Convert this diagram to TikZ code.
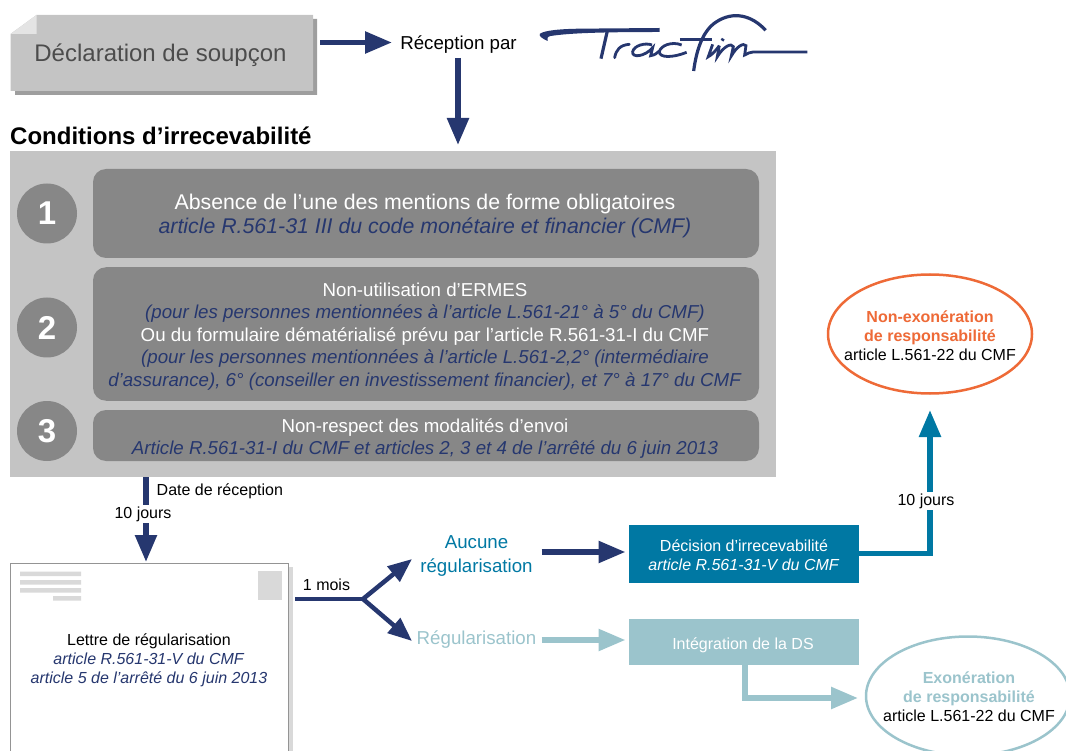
\documentclass[tikz,border=0pt]{standalone}
\usepackage{fontspec}
\setmainfont{Liberation Sans}
\usetikzlibrary{arrows.meta,shapes.geometric}
\definecolor{navy}{HTML}{26376F}
\definecolor{teal}{HTML}{0078A3}
\definecolor{pale}{HTML}{9BC4CC}
\definecolor{panel}{HTML}{C4C4C4}
\definecolor{dark}{HTML}{878787}
\definecolor{orng}{HTML}{EE6A37}
\definecolor{lite}{HTML}{D9D9D9}
\newcommand{\fs}[2]{\fontsize{#1}{#2}\selectfont}
\newcommand{\bl}[1]{\textcolor{navy}{\textit{#1}}}
\tikzset{
 arrowline/.style={line width=5.5pt,-{Triangle[length=27pt,width=21pt]}},
 navyarrow/.style={arrowline,draw=navy},
 thinhead/.style={line width=4.5pt,draw=navy,-{Triangle[length=24pt,width=19pt]}},
 rbox/.style={rounded corners=13pt,fill=dark,draw=none,minimum width=666pt,inner sep=0pt},
 boxtext/.style={inner sep=0pt,align=center,text=white},
 num/.style={circle,fill=dark,minimum size=60pt,inner sep=0pt,text=white,font=\fs{33}{36}\bfseries},
 lbl/.style={inner sep=0pt,align=center},
 gap/.style={fill=white,inner xsep=1pt,inner ysep=2pt,font=\fs{16}{18}},
 flat/.style={draw=none,minimum width=230pt,inner sep=0pt},
 oval/.style={ellipse,fill=white,minimum width=204pt,minimum height=119pt,inner sep=0pt,line width=2.5pt},
 ovaltext/.style={lbl,font=\fs{16}{19}},
}
\begin{document}
\begin{tikzpicture}[x=1pt,y=-1pt]
\clip (0,0) rectangle (1066,751);
% top box
\fill[black!38] (313,19) -- (317,19) -- (317,95) -- (15,95) -- (15,91) -- (313,91) -- cycle;
\fill[panel] (36.5,15) -- (313,15) -- (313,91) -- (10.5,91) -- (10.5,34) -- cycle;
\fill[lite!70] (10.5,34) -- (36.5,34) -- (36.5,15) -- cycle;
\node[lbl,text=black!70,font=\fs{24}{28}] (decl) at (160.5,55.5) {Déclaration de soupçon};
\node[lbl,font=\fs{18.7}{22}] (recep) at (458.5,45) {Réception par};
\coordinate (a1s) at (320,42.5); \coordinate (a1e) at (392,42.5);
\draw[navyarrow] (a1s) -- (a1e);
\coordinate (a2s) at (458,58); \coordinate (a2e) at (458,145);
\draw[navyarrow] (a2s) -- (a2e);
% logo
\begin{scope}[shift={(530pt,-5pt)},x=0.3333pt,y=-0.3333pt]
 \fill[navy] (389,69) -- (150,71) .. controls (90,72) and (45,76) .. (30,86) .. controls (25,92) and (35,100) .. (53,108) .. controls (50,100) and (52,95) .. (62,93) .. controls (120,84) and (220,81) .. (389,81) -- cycle;
 \draw[navy,line width=3.2pt] (232,78) -- (213,161);
 \draw[navy,line width=2.8pt,line cap=round] (254,158) .. controls (258,135) and (270,120) .. (298,118);
 \draw[navy,line width=2.8pt] (366,120) .. controls (345,112) and (312,122) .. (308,140) .. controls (305,160) and (345,155) .. (368,128) -- (362,152) .. controls (375,150) and (380,145) .. (388,138);
 \draw[navy,line width=2.8pt] (455,120) .. controls (425,108) and (392,122) .. (388,140) .. controls (388,160) and (430,158) .. (470,142);
 \draw[navy,line width=3pt] (450,103) -- (545,103);
 \draw[navy,line width=3.2pt] (491,198) .. controls (500,130) and (520,75) .. (560,50) .. controls (610,18) and (665,30) .. (707,76);
 \draw[navy,line width=2.8pt] (548,118) -- (535,155) .. controls (545,150) and (555,140) .. (568,122);
 \draw[navy,line width=3.2pt] (580,101) -- (576,107);
 \draw[navy,line width=2.8pt] (568,122) -- (562,155) .. controls (580,125) and (605,112) .. (610,125) -- (604,153) .. controls (620,125) and (640,112) .. (648,122) -- (644,150) .. controls (655,145) and (660,141) .. (670,141) -- (832,141);
\end{scope}
% conditions
\node[lbl,anchor=west,font=\fs{24}{28}\bfseries] (cond) at (10,136) {Conditions d’irrecevabilité};
\fill[panel] (10,151) rectangle (776,477);
\node[num] (n1) at (47,213.5) {1};
\node[num] (n2) at (47,327.5) {2};
\node[num] (n3) at (47,431) {3};
\node[rbox,minimum height=89pt] (b1) at (426,213.5) {};
\node[boxtext,font=\fs{21.3}{24.7}] (t1) at (425,216) {Absence de l’une des mentions de forme obligatoires\\\bl{article R.561-31 III du code monétaire et financier (CMF)}};
\node[rbox,minimum height=133.5pt] (b2) at (426,334) {};
\node[boxtext,font=\fs{18.7}{22.4}] (t2) at (425,336.5) {Non-utilisation d’ERMES\\\bl{(pour les personnes mentionnées à l’article L.561-21° à 5° du CMF)}\\Ou du formulaire dématérialisé prévu par l’article R.561-31-I du CMF\\\bl{(pour les personnes mentionnées à l’article L.561-2,2° (intermédiaire}\\\bl{d’assurance), 6° (conseiller en investissement financier), et 7° à 17° du CMF}};
\node[rbox,minimum height=51pt] (b3) at (426,435.5) {};
\node[boxtext,font=\fs{18.7}{22}] (t3) at (425,438.5) {Non-respect des modalités d’envoi\\\bl{Article R.561-31-I du CMF et articles 2, 3 et 4 de l’arrêté du 6 juin 2013}};
% letter
\coordinate (a3s) at (146,477); \coordinate (a3e) at (146,562);
\draw[navyarrow] (a3s) -- (a3e);
\node[lbl,anchor=west,font=\fs{16}{18}] (date) at (156.5,491) {Date de réception};
\node[gap] (dix1) at (143,514) {10 jours};
\fill[lite] (284,567) rectangle (293,760);
\node[draw=black!42,line width=0.9pt,fill=white,minimum width=277.5pt,minimum height=210pt,inner sep=0pt] (letter) at (149.5,668) {};
\fill[lite] (20,571.5) rectangle (81,576) (20,580) rectangle (81,584.5) (20,588) rectangle (81,592.5) (53,596) rectangle (81,600.5);
\fill[lite] (258,571) rectangle (282,600);
\node[lbl,font=\fs{16}{19}] (ltxt) at (149,660) {Lettre de régularisation\\\bl{article R.561-31-V du CMF}\\\bl{article 5 de l’arrêté du 6 juin 2013}};
% fork
\coordinate (f0) at (295,599); \coordinate (f1) at (363,599);
\coordinate (f2) at (412,559); \coordinate (f3) at (412,641);
\draw[navy,line width=4.5pt] (f0) -- (f1);
\draw[thinhead] (f1) -- (f2);
\draw[thinhead] (f1) -- (f3);
\node[lbl,font=\fs{16}{18}] (mois) at (326.5,584.5) {1 mois};
\node[lbl,text=teal,font=\fs{18.7}{23.7}] (auc) at (476.5,556) {Aucune\\régularisation};
\node[lbl,text=pale,font=\fs{18.7}{22}] (reg) at (476.5,640) {Régularisation};
% boxes
\node[flat,fill=teal,minimum height=58pt] (dec) at (744,554) {};
\node[boxtext,font=\fs{16}{19}] (dect) at (744,555) {Décision d’irrecevabilité\\\textit{article R.561-31-V du CMF}};
\node[flat,fill=pale,minimum height=46pt] (integ) at (744,642) {};
\node[boxtext,font=\fs{16}{18}] (integt) at (743,645) {Intégration de la DS};
\node[oval,draw=orng] (nonex) at (930,334) {};
\node[ovaltext] (nonext) at (930,336) {\textcolor{orng}{\textbf{Non-exonération}}\\\textcolor{orng}{\textbf{de responsabilité}}\\article L.561-22 du CMF};
\node[oval,draw=pale] (ex) at (968,696) {};
\node[ovaltext] (ext) at (969,697) {\textcolor{pale}{\textbf{Exonération}}\\\textcolor{pale}{\textbf{de responsabilité}}\\article L.561-22 du CMF};
\coordinate (a4s) at (541.5,552); \coordinate (a4e) at (625.5,552);
\draw[navyarrow] (a4s) -- (a4e);
\coordinate (a5s) at (541.5,640); \coordinate (a5e) at (625.5,640);
\draw[arrowline,draw=pale] (a5s) -- (a5e);
\coordinate (a6e) at (930,410);
\draw[arrowline,draw=teal] (dec.east |- 0,553.5) -| (a6e);
\node[gap] (dix2) at (926,501) {10 jours};
\coordinate (a7e) at (858,698);
\draw[arrowline,draw=pale] (integ.south -| 745,0) |- (a7e);
\end{tikzpicture}
\end{document}
